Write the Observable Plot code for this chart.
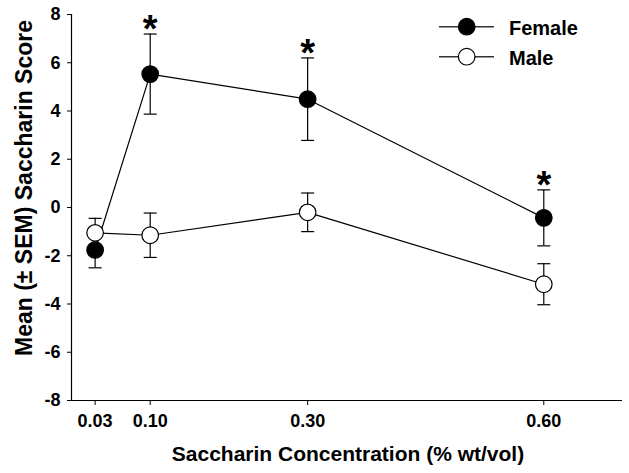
<!DOCTYPE html>
<html>
<head>
<meta charset="utf-8">
<script src="https://cdn.jsdelivr.net/npm/d3@7"></script>
<script src="https://cdn.jsdelivr.net/npm/@observablehq/plot@0.6"></script>
<style>
  html, body { margin: 0; padding: 0; background: white; }
</style>
</head>
<body>
<div id="chart"></div>
<script>
const conc = [0.03, 0.10, 0.30, 0.60];
const concLabels = ["0.03", "0.10", "0.30", "0.60"];
const femaleMean = [-1.76, 5.53, 4.49, -0.43];
const femaleSem = [0.74, 1.66, 1.71, 1.16];
const femaleSig = [false, true, true, true];
const maleMean = [-1.05, -1.15, -0.20, -3.18];
const maleSem = [0.60, 0.92, 0.80, 0.85];
const yTicks = [-8, -6, -4, -2, 0, 2, 4, 6, 8];
const yTickLabels = ["-8", "-6", "-4", "-2", "0", "2", "4", "6", "8"];
const seriesNames = ["Female", "Male"];
const seriesFill = ["black", "white"];
const xTitle = "Saccharin Concentration (% wt/vol)";
const yTitle = "Mean (± SEM) Saccharin Score";

const rows = [];
conc.forEach((c, i) => rows.push({sex: seriesNames[0], conc: c, mean: femaleMean[i], sem: femaleSem[i], sig: femaleSig[i], fill: seriesFill[0]}));
conc.forEach((c, i) => rows.push({sex: seriesNames[1], conc: c, mean: maleMean[i], sem: maleSem[i], sig: false, fill: seriesFill[1]}));

const FONT = "'Liberation Sans', Arial, Helvetica, sans-serif";
const cap = {draw(ctx) { ctx.moveTo(-6.5, 0); ctx.lineTo(6.5, 0); }};

const svg = Plot.plot({
  width: 629,
  height: 473,
  marginLeft: 71,
  marginRight: 7,
  marginTop: 14,
  marginBottom: 73,
  x: {domain: [0, 0.7]},
  y: {domain: [-8, 8]},
  color: {type: "identity"},
  style: {fontFamily: FONT, fontSize: "18px", fontWeight: "bold", color: "black", background: "white", overflow: "visible"},
  marks: [
    Plot.ruleY([-8], {stroke: "black", strokeWidth: 1.2}),
    Plot.ruleX([0], {stroke: "black", strokeWidth: 1.2}),
    Plot.axisY({ticks: yTicks, tickFormat: d => yTickLabels[yTicks.indexOf(d)], tickSize: 4, tickPadding: 7, label: null, fontSize: 18, fontWeight: "bold", stroke: "black"}),
    Plot.axisX({ticks: conc, tickFormat: d => concLabels[conc.indexOf(d)], tickSize: 5, tickPadding: 9, label: null, fontSize: 18, fontWeight: "bold", stroke: "black"}),
    Plot.line(rows, {x: "conc", y: "mean", z: "sex", stroke: "black", strokeWidth: 1.2}),
    Plot.ruleX(rows, {x: "conc", y1: d => d.mean - d.sem, y2: d => d.mean + d.sem, stroke: "black", strokeWidth: 1.2}),
    Plot.dot(rows, {x: "conc", y: d => d.mean - d.sem, symbol: cap, fill: "none", stroke: "black", strokeWidth: 1.2}),
    Plot.dot(rows, {x: "conc", y: d => d.mean + d.sem, symbol: cap, fill: "none", stroke: "black", strokeWidth: 1.2}),
    Plot.dot(rows, {x: "conc", y: "mean", r: 8.3, fill: "fill", stroke: "black", strokeWidth: 1.2}),
    Plot.text(rows.filter(d => d.sig), {x: "conc", y: d => d.mean + d.sem, text: () => "*", fontSize: 38, fontWeight: "bold", dy: -4, fill: "black"})
  ]
});

const s = d3.select(svg);
// enlarge axis tick labels
s.selectAll("text").filter(function() { return this.textContent !== "*"; })
  .style("font-size", "18px").style("font-weight", "bold").style("font-family", FONT);

s.append("text")
  .attr("transform", "translate(32,188) rotate(-90)")
  .attr("text-anchor", "middle")
  .attr("font-family", FONT).attr("font-weight", "bold").attr("font-size", 23)
  .attr("fill", "black")
  .text(yTitle);
s.append("text")
  .attr("x", 348).attr("y", 461)
  .attr("text-anchor", "middle")
  .attr("font-family", FONT).attr("font-weight", "bold").attr("font-size", 21)
  .attr("fill", "black")
  .text(xTitle);

// legend
const lg = s.append("g");
seriesNames.forEach((name, i) => {
  const yy = 26.7 + i * 30;
  lg.append("line").attr("x1", 439).attr("x2", 494).attr("y1", yy).attr("y2", yy).attr("stroke", "#333").attr("stroke-width", 1.4);
  lg.append("circle").attr("cx", 466.7).attr("cy", yy).attr("r", 8.3).attr("fill", seriesFill[i]).attr("stroke", "black").attr("stroke-width", 1.2);
  lg.append("text").attr("x", 509).attr("y", yy + 8).attr("text-anchor", "start").attr("font-family", FONT).attr("font-weight", "bold").attr("font-size", 20).attr("fill", "black").text(name);
});

document.getElementById("chart").appendChild(svg);
</script>
</body>
</html>
